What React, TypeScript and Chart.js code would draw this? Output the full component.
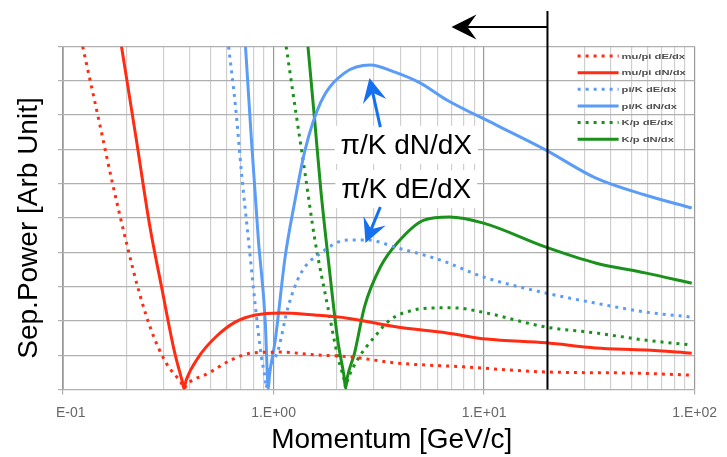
import React, { useEffect, useRef } from 'react';
import { Chart, registerables } from 'chart.js';

Chart.register(...registerables);

// ---- data: momentum [GeV/c] and separation power [arb. unit] ----
const muPiDEdxP = [0.124, 0.149, 0.172, 0.2025, 0.2306, 0.2654, 0.309, 0.366, 0.3756, 0.388, 0.4925, 0.632, 0.785, 1.087, 1.572, 2.248, 3.868, 8.0, 19.7, 48.4, 96.9];
const muPiDEdxV = [10, 7.77, 6.0, 4.15, 2.81, 1.65, 0.77, 0.17, 0.03, 0.15, 0.48, 0.87, 1.06, 1.09, 1.01, 0.96, 0.77, 0.66, 0.51, 0.48, 0.42];

const muPiDNdxP = [0.1896, 0.2232, 0.257, 0.2958, 0.3371, 0.369, 0.3756, 0.384, 0.4418, 0.5313, 0.66, 0.8202, 1.087, 1.572, 2.248, 3.868, 6.653, 10.26, 19.68, 33.8, 58.2, 96.9];
const muPiDNdxV = [10, 7.27, 4.85, 2.9, 1.15, 0.22, 0.03, 0.26, 0.96, 1.53, 1.97, 2.17, 2.23, 2.17, 2.08, 1.82, 1.65, 1.47, 1.36, 1.21, 1.15, 1.06];

const piKDEdxP = [0.6117, 0.66, 0.7046, 0.7602, 0.8202, 0.8752, 0.914, 0.924, 0.936, 1.052, 1.173, 1.351, 1.677, 2.248, 2.794, 3.868, 6.166, 9.94, 19.68, 33.8, 58.2, 96.9];
const piKDEdxV = [10, 8.24, 6.31, 4.36, 2.41, 0.96, 0.3, 0.05, 0.35, 1.15, 2.41, 3.4, 3.98, 4.36, 4.36, 4.13, 3.78, 3.28, 2.81, 2.52, 2.26, 2.11];

const piKDNdxP = [0.7358, 0.7853, 0.8473, 0.914, 0.934, 0.9443, 0.956, 1.019, 1.135, 1.265, 1.411, 1.677, 2.177, 2.885, 3.744, 4.963, 6.653, 11.44, 19.68, 33.8, 58.2, 96.9];
const piKDNdxV = [10, 7.27, 4.36, 1.94, 0.45, 0.02, 0.4, 1.44, 3.86, 5.52, 6.98, 8.38, 9.23, 9.46, 9.26, 8.94, 8.44, 7.71, 6.98, 6.17, 5.67, 5.29];

const kPDEdxP = [1.148, 1.265, 1.411, 1.572, 1.81, 2.018, 2.16, 2.2, 2.25, 2.506, 3.013, 3.585, 4.651, 6.166, 7.176, 10.26, 19.68, 33.8, 58.2, 96.9];
const kPDEdxV = [10, 8.24, 6.31, 4.36, 2.41, 0.96, 0.3, 0.06, 0.28, 0.87, 1.53, 2.03, 2.32, 2.38, 2.38, 2.23, 1.82, 1.65, 1.44, 1.3];

const kPDNdxP = [1.457, 1.572, 1.677, 1.85, 2.018, 2.16, 2.2, 2.24, 2.425, 2.704, 3.216, 3.868, 5.183, 6.871, 9.94, 19.68, 33.8, 58.2, 96.9];
const kPDNdxV = [10, 7.77, 5.82, 3.4, 1.44, 0.4, 0.04, 0.35, 1.06, 2.41, 3.57, 4.27, 4.94, 5.03, 4.85, 4.15, 3.69, 3.4, 3.1];

const legendLabels = ['mu/pi dE/dx', 'mu/pi dN/dx', 'pi/K dE/dx', 'pi/K dN/dx', 'K/p dE/dx', 'K/p dN/dx'];

const decadeValues = [0.1, 1, 10, 100];
const decadeLabels = ['    E-01', '1.E+00', '1.E+01', '1.E+02'];
const minorMultipliers = [1, 2, 3, 4, 5, 6, 7, 8, 9];

const xTitle = 'Momentum [GeV/c]';
const yTitle = 'Sep.Power [Arb Unit]';

// annotations (data coordinates)
const annotTexts = ['π/K dN/dX', 'π/K dE/dX'];
const annotP = [4.27, 4.27];
const annotV = [6.87, 5.58];
const arrowFromP = [3.216, 3.216];
const arrowFromV = [7.65, 5.32];
const arrowToP = [2.855, 2.733];
const arrowToV = [9.08, 4.27];
const cutoffP = 20;
const cutoffArrowToP = 7;

const RED = '#ff2b12';
const BLUE = '#5b9cf6';
const GREEN = '#1a911a';
const ARROW_BLUE = '#1570ef';
const FONT = '"Liberation Sans", Arial, sans-serif';

const xGridValues: number[] = [];
decadeValues.slice(0, 3).forEach((d) => minorMultipliers.forEach((m) => xGridValues.push(+(d * m).toPrecision(6))));
xGridValues.push(100);

const isDecade = (v: number) => {
  if (!v || v <= 0) return false;
  const l = Math.log10(v);
  return Math.abs(l - Math.round(l)) < 1e-6;
};

const series = [
  { p: muPiDEdxP, v: muPiDEdxV, color: RED, dotted: true },
  { p: muPiDNdxP, v: muPiDNdxV, color: RED, dotted: false },
  { p: piKDEdxP, v: piKDEdxV, color: BLUE, dotted: true },
  { p: piKDNdxP, v: piKDNdxV, color: BLUE, dotted: false },
  { p: kPDEdxP, v: kPDEdxV, color: GREEN, dotted: true },
  { p: kPDNdxP, v: kPDNdxV, color: GREEN, dotted: false },
];

const DOT = [3, 5];

function arrowHead(ctx: CanvasRenderingContext2D, x1: number, y1: number, x2: number, y2: number, len: number, half: number, notch: number) {
  const ang = Math.atan2(y2 - y1, x2 - x1);
  ctx.save();
  ctx.translate(x2, y2);
  ctx.rotate(ang);
  ctx.beginPath();
  ctx.moveTo(0, 0);
  ctx.lineTo(-len, -half);
  ctx.lineTo(-notch, 0);
  ctx.lineTo(-len, half);
  ctx.closePath();
  ctx.fill();
  ctx.restore();
}

function arrow(ctx: CanvasRenderingContext2D, x1: number, y1: number, x2: number, y2: number, len: number, half: number, notch: number) {
  const ang = Math.atan2(y2 - y1, x2 - x1);
  const ex = x2 - Math.cos(ang) * notch;
  const ey = y2 - Math.sin(ang) * notch;
  ctx.beginPath();
  ctx.moveTo(x1, y1);
  ctx.lineTo(ex, ey);
  ctx.stroke();
  arrowHead(ctx, x1, y1, x2, y2, len, half, notch);
}

const overlayPlugin = {
  id: 'overlay',
  beforeDatasetsDraw(chart: any) {
    const { ctx } = chart;
    const xs = chart.scales.x;
    const ys = chart.scales.y;
    ctx.save();
    ctx.font = `28px ${FONT}`;
    annotTexts.forEach((t, i) => {
      const cx = xs.getPixelForValue(annotP[i]);
      const by = ys.getPixelForValue(annotV[i]);
      const w = ctx.measureText(t).width;
      ctx.fillStyle = '#ffffff';
      ctx.fillRect(cx - w / 2 - 6, by - 28, w + 12, 38);
    });
    ctx.restore();
  },
  afterDatasetsDraw(chart: any) {
    const { ctx, chartArea } = chart;
    const xs = chart.scales.x;
    const ys = chart.scales.y;
    ctx.save();
    ctx.font = `28px ${FONT}`;
    ctx.fillStyle = '#000';
    ctx.textAlign = 'center';
    ctx.textBaseline = 'alphabetic';
    annotTexts.forEach((t, i) => {
      ctx.fillText(t, xs.getPixelForValue(annotP[i]), ys.getPixelForValue(annotV[i]));
    });
    ctx.strokeStyle = ARROW_BLUE;
    ctx.fillStyle = ARROW_BLUE;
    ctx.lineWidth = 3;
    annotTexts.forEach((_, i) => {
      arrow(ctx,
        xs.getPixelForValue(arrowFromP[i]), ys.getPixelForValue(arrowFromV[i]),
        xs.getPixelForValue(arrowToP[i]), ys.getPixelForValue(arrowToV[i]),
        24, 12, 15);
    });
    const xc = xs.getPixelForValue(cutoffP);
    ctx.strokeStyle = '#000';
    ctx.fillStyle = '#000';
    ctx.lineWidth = 2;
    ctx.beginPath();
    ctx.moveTo(xc, chartArea.top - 35.5);
    ctx.lineTo(xc, chartArea.bottom);
    ctx.stroke();
    const ya = chartArea.top - 19.5;
    arrow(ctx, xc, ya, xs.getPixelForValue(cutoffArrowToP), ya, 25, 12.5, 16);
    ctx.restore();
  },
  afterDraw(chart: any) {
    const { ctx, chartArea } = chart;
    ctx.save();
    chart.data.datasets.forEach((ds: any, i: number) => {
      const y = chartArea.top + 9.5 + i * 16.65;
      const x0 = chartArea.right - 117;
      const x1 = chartArea.right - 76;
      ctx.strokeStyle = ds.borderColor;
      ctx.lineWidth = 3;
      ctx.setLineDash(ds.borderDash || []);
      ctx.beginPath();
      ctx.moveTo(x0, y);
      ctx.lineTo(x1, y);
      ctx.stroke();
      ctx.setLineDash([]);
      ctx.save();
      ctx.translate(chartArea.right - 73, y);
      ctx.scale(1.4, 1);
      ctx.font = `bold 8px ${FONT}`;
      ctx.fillStyle = '#505050';
      ctx.textAlign = 'left';
      ctx.textBaseline = 'middle';
      ctx.fillText(ds.label, 0, 0.5);
      ctx.restore();
    });
    ctx.fillStyle = '#000';
    ctx.font = `28px ${FONT}`;
    ctx.textAlign = 'center';
    ctx.textBaseline = 'middle';
    ctx.fillText(xTitle, (chartArea.left + chartArea.right) / 2 + 13, chartArea.bottom + 51);
    ctx.translate(29, (chartArea.top + chartArea.bottom) / 2 + 10);
    ctx.rotate(-Math.PI / 2);
    ctx.fillText(yTitle, 0, 0);
    ctx.restore();
  },
};

export default function App() {
  const ref = useRef<HTMLCanvasElement>(null);
  useEffect(() => {
    const canvas = ref.current;
    if (!canvas) return;
    const chart = new Chart(canvas, {
      type: 'line',
      data: {
        datasets: series.map((s, i) => ({
          label: legendLabels[i],
          data: s.p.map((p, j) => ({ x: p, y: s.v[j] })),
          borderColor: s.color,
          backgroundColor: s.color,
          borderWidth: 3,
          borderDash: s.dotted ? DOT : [],
          pointRadius: 0,
          pointHoverRadius: 0,
          cubicInterpolationMode: 'monotone',
          fill: false,
        })),
      },
      options: {
        animation: false,
        responsive: true,
        maintainAspectRatio: false,
        events: [],
        layout: { padding: { left: 0, top: 46.5, right: 27, bottom: 0 } },
        plugins: {
          legend: { display: false },
          tooltip: { enabled: false },
          title: { display: false },
        },
        scales: {
          x: {
            type: 'logarithmic',
            min: 0.1,
            max: 100,
            afterBuildTicks: (scale: any) => {
              scale.ticks = xGridValues.map((v) => ({ value: v }));
            },
            afterFit: (scale: any) => {
              scale.height = 67.5;
            },
            grid: {
              color: (c: any) => (isDecade(c.tick?.value) ? '#999999' : '#cfcfcf'),
              tickColor: (c: any) => (isDecade(c.tick?.value) ? '#b0b0b0' : 'rgba(0,0,0,0)'),
              tickLength: 5,
              lineWidth: 1.2,
            },
            border: { color: '#b0b0b0' },
            ticks: {
              autoSkip: false,
              maxRotation: 0,
              minRotation: 0,
              padding: 10,
              color: '#666666',
              font: { family: FONT, size: 14 },
              callback: (value: any) => {
                const v = Number(value);
                const i = decadeValues.findIndex((d) => Math.abs(d - v) / d < 1e-6);
                return i >= 0 ? decadeLabels[i] : '';
              },
            },
          },
          y: {
            type: 'linear',
            min: 0,
            max: 10,
            afterFit: (scale: any) => {
              scale.width = 63;
            },
            grid: { color: '#b0b0b0', tickColor: '#b0b0b0', tickLength: 5, lineWidth: 1.2 },
            border: { color: '#b0b0b0' },
            ticks: { stepSize: 1, callback: () => '', padding: 0 },
          },
        },
      },
      plugins: [overlayPlugin],
    } as any);
    return () => chart.destroy();
  }, []);
  return (
    <div style={{ position: 'absolute', left: 0, top: 0, width: 727, height: 457 }}>
      <canvas ref={ref} />
    </div>
  );
}
